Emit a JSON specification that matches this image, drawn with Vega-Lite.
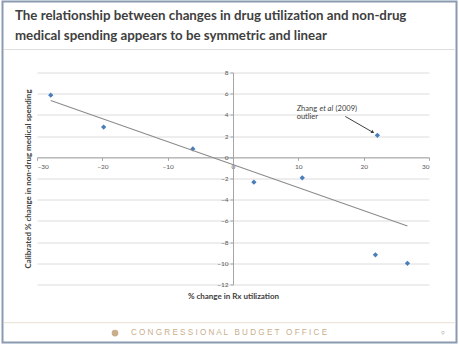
{
  "$schema": "https://vega.github.io/schema/vega-lite/v6.json",
  "autosize": {"type": "none"},
  "width": 392,
  "height": 212,
  "padding": {"left": 37, "top": 72.5, "right": 30, "bottom": 59.5},
  "background": "white",
  "config": {
    "view": {"stroke": null},
    "font": "Lato"
  },
  "datasets": {
    "points": [
      {"x": -27.9, "y": 5.86},
      {"x": -19.8, "y": 2.85},
      {"x": -6.15, "y": 0.79},
      {"x": 3.2, "y": -2.35},
      {"x": 10.6, "y": -1.94},
      {"x": 22.1, "y": 2.07},
      {"x": 21.8, "y": -9.2},
      {"x": 26.7, "y": -10.0}
    ],
    "trend": [
      {"x": -27.9, "y": 5.35},
      {"x": 26.7, "y": -6.48}
    ],
    "arrow": [
      {"x": 17.2, "y": 3.85, "x2": 21.4, "y2": 2.36}
    ],
    "note": [
      {"x": 9.74, "y": 4.6, "text": "Zhang"},
      {"x": 15.7, "y": 4.6, "text": "(2009)"},
      {"x": 9.74, "y": 3.79, "text": "outlier"}
    ],
    "noteItalic": [
      {"x": 13.25, "y": 4.6, "text": "et al"}
    ],
    "headline": [
      {"text": "The relationship between changes in drug utilization and non-drug\nmedical spending appears to be symmetric and linear"}
    ],
    "brand": [
      {"text": "C O N G R E S S I O N A L \u00a0 B U D G E T \u00a0 O F F I C E"}
    ],
    "page": [
      {"text": "9"}
    ],
    "blank": [
      {"item": "frame"}
    ]
  },
  "layer": [
    {
      "data": {"name": "blank"},
      "mark": {"type": "rect", "filled": false, "stroke": "#8a9ab0", "strokeWidth": 2},
      "encoding": {
        "x": {"datum": -35.28, "type": "quantitative"},
        "x2": {"datum": 34.21},
        "y": {"datum": 14.7, "type": "quantitative"},
        "y2": {"datum": -17.47}
      }
    },
    {
      "data": {"name": "blank"},
      "mark": {"type": "rule", "stroke": "#dedede", "strokeWidth": 1},
      "encoding": {
        "x": {"datum": -35.1, "type": "quantitative"},
        "x2": {"datum": 34.05},
        "y": {"datum": 10.17, "type": "quantitative"}
      }
    },
    {
      "data": {"name": "blank"},
      "mark": {"type": "rule", "stroke": "#e8e0d6", "strokeWidth": 1},
      "encoding": {
        "x": {"datum": -35.1, "type": "quantitative"},
        "x2": {"datum": 34.05},
        "y": {"datum": -15.6, "type": "quantitative"}
      }
    },
    {
      "data": {"name": "points"},
      "mark": {"type": "point", "shape": "diamond", "filled": true, "color": "#4a7ebb", "size": 28, "opacity": 1},
      "encoding": {
        "x": {
          "field": "x", "type": "quantitative",
          "scale": {"domain": [-30, 30], "nice": false, "zero": false},
          "axis": {
            "title": "% change in Rx utilization",
            "values": [-30, -20, -10, 0, 10, 20, 30],
            "offset": -127.2,
            "grid": false,
            "labelOverlap": false,
            "domainColor": "#a6a6a6",
            "tickColor": "#a6a6a6",
            "tickSize": 3,
            "labelFontSize": 6.5,
            "labelColor": "#595959",
            "labelPadding": 3,
            "titleFontSize": 8,
            "titleFontWeight": "bold",
            "titleColor": "#404040",
            "titleY": 139,
            "titleBaseline": "middle"
          }
        },
        "y": {
          "field": "y", "type": "quantitative",
          "scale": {"domain": [-12, 8], "nice": false, "zero": false},
          "axis": {
            "title": "Calibrated % change in non-drug medical spending",
            "values": [-12, -10, -8, -6, -4, -2, 0, 2, 4, 6, 8],
            "tickCount": 11,
            "offset": -196,
            "grid": true,
            "labelOverlap": false,
            "gridColor": "#dcdcdc",
            "gridWidth": 1,
            "domainColor": "#a6a6a6",
            "tickColor": "#a6a6a6",
            "tickSize": 3,
            "labelFontSize": 6.5,
            "labelColor": "#595959",
            "labelPadding": 2,
            "titleFontSize": 8,
            "titleFontWeight": "bold",
            "titleColor": "#404040",
            "titleAngle": 270,
            "titleX": -205,
            "titleY": 106,
            "titleAlign": "center",
            "titleBaseline": "middle"
          }
        }
      }
    },
    {
      "data": {"name": "trend"},
      "mark": {"type": "line", "color": "#8c8c8c", "strokeWidth": 1.1},
      "encoding": {
        "x": {"field": "x", "type": "quantitative"},
        "y": {"field": "y", "type": "quantitative"}
      }
    },
    {
      "data": {"name": "arrow"},
      "mark": {"type": "rule", "color": "#404040", "strokeWidth": 1},
      "encoding": {
        "x": {"field": "x", "type": "quantitative"},
        "y": {"field": "y", "type": "quantitative"},
        "x2": {"field": "x2"},
        "y2": {"field": "y2"}
      }
    },
    {
      "data": {"name": "arrow"},
      "mark": {"type": "point", "shape": "triangle-up", "filled": true, "color": "#404040", "size": 14, "angle": 120, "opacity": 1},
      "encoding": {
        "x": {"field": "x2", "type": "quantitative"},
        "y": {"field": "y2", "type": "quantitative"}
      }
    },
    {
      "data": {"name": "note"},
      "mark": {"type": "text", "align": "left", "baseline": "middle", "fontSize": 7.5, "color": "#404040"},
      "encoding": {
        "x": {"field": "x", "type": "quantitative"},
        "y": {"field": "y", "type": "quantitative"},
        "text": {"field": "text"}
      }
    },
    {
      "data": {"name": "noteItalic"},
      "mark": {"type": "text", "align": "left", "baseline": "middle", "fontSize": 7.5, "fontStyle": "italic", "color": "#404040"},
      "encoding": {
        "x": {"field": "x", "type": "quantitative"},
        "y": {"field": "y", "type": "quantitative"},
        "text": {"field": "text"}
      }
    },
    {
      "data": {"name": "headline"},
      "mark": {"type": "text", "align": "left", "baseline": "alphabetic", "fontSize": 13.3, "fontWeight": "bold", "color": "#404040", "lineBreak": "\n", "lineHeight": 20},
      "encoding": {
        "x": {"datum": -33.37, "type": "quantitative"},
        "y": {"datum": 12.93, "type": "quantitative"},
        "text": {"field": "text"}
      }
    },
    {
      "data": {"name": "blank"},
      "mark": {"type": "point", "shape": "circle", "filled": true, "color": "#c9ae8c", "size": 45, "opacity": 1},
      "encoding": {
        "x": {"datum": -18.06, "type": "quantitative"},
        "y": {"datum": -16.58, "type": "quantitative"}
      }
    },
    {
      "data": {"name": "brand"},
      "mark": {"type": "text", "align": "center", "baseline": "middle", "font": "Liberation Sans", "fontSize": 8.15, "color": "#c9ae8c"},
      "encoding": {
        "x": {"datum": -0.61, "type": "quantitative"},
        "y": {"datum": -16.58, "type": "quantitative"},
        "text": {"field": "text"}
      }
    },
    {
      "data": {"name": "page"},
      "mark": {"type": "text", "align": "center", "baseline": "middle", "fontSize": 6.5, "color": "#b8b8b8"},
      "encoding": {
        "x": {"datum": 32.14, "type": "quantitative"},
        "y": {"datum": -16.58, "type": "quantitative"},
        "text": {"field": "text"}
      }
    }
  ]
}
